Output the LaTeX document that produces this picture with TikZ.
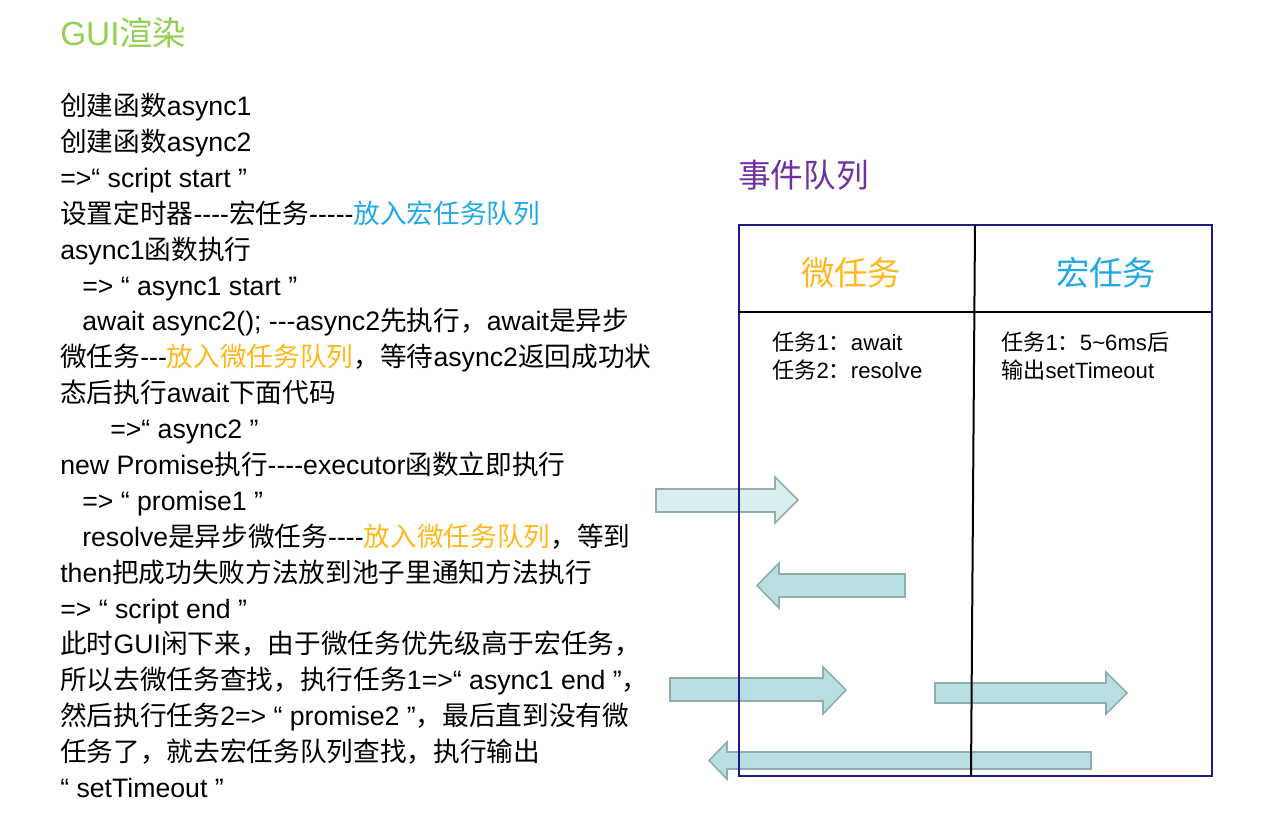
\documentclass[tikz,border=0pt]{standalone}
\usepackage{fontspec}
\setmainfont[Ligatures=TeXOff]{Liberation Sans}
\newfontfamily\cjk{Noto Sans CJK SC}
\newcommand\zh[1]{{\cjk #1}}
\usepackage{tikz}
\usetikzlibrary{calc,positioning}

\definecolor{guigreen}{HTML}{92D050}
\definecolor{queuepurple}{HTML}{7030A0}
\definecolor{microorange}{HTML}{FFB81C}
\definecolor{macroblue}{HTML}{1FAAE6}
\definecolor{boxnavy}{HTML}{1F1A8A}
\definecolor{arrowfill}{HTML}{B7DFE1}
\definecolor{arrowpale}{HTML}{DAEDEF}
\definecolor{arrowedge}{HTML}{90AEB0}

\tikzset{
  txtline/.style={anchor=base west,inner sep=0pt,font=\fontsize{20}{24}\selectfont},
  cell/.style={anchor=base west,inner sep=0pt,font=\fontsize{16.6}{20}\selectfont},
  fatarrow/.style={draw=arrowedge,line width=1.2pt,fill=arrowfill},
}

\begin{document}
\begin{tikzpicture}[x=0.75pt,y=-0.75pt]
        \useasboundingbox (0,0) rectangle (1280,828);

        % title
        \node[anchor=base west,inner sep=0pt,text=guigreen,font=\fontsize{25}{28}\selectfont] (title) at (60,45) {GUI\zh{渲染}};

        % steps on the left
        \node[txtline] (l1) at (60,115) {\zh{创建函数}async1};
        \node[txtline] (l2) at (60,151) {\zh{创建函数}async2};
        \node[txtline] (l3) at (60,187) {=>“ script start ”};
        \node[txtline] (l4) at (60,223) {\zh{设置定时器}----\zh{宏任务}-----\textcolor{macroblue}{\zh{放入宏任务队列}}};
        \node[txtline] (l5) at (60,259) {async1\zh{函数执行}};
        \node[txtline] (l6) at (82,295) {=> “ async1 start ”};
        \node[txtline] (l7) at (82,330) {await async2(); ---async2\zh{先执行，}await\zh{是异步}};
        \node[txtline] (l8) at (60,366) {\zh{微任务}---\textcolor{microorange}{\zh{放入微任务队列}}\zh{，等待}async2\zh{返回成功状}};
        \node[txtline] (l9) at (60,402) {\zh{态后执行}await\zh{下面代码}};
        \node[txtline] (l10) at (110,438) {=>“ async2 ”};
        \node[txtline] (l11) at (60,474) {new Promise\zh{执行}----executor\zh{函数立即执行}};
        \node[txtline] (l12) at (82,510) {=> “ promise1 ”};
        \node[txtline] (l13) at (82,546) {resolve\zh{是异步微任务}----\textcolor{microorange}{\zh{放入微任务队列}}\zh{，等到}};
        \node[txtline] (l14) at (60,582) {then\zh{把成功失败方法放到池子里通知方法执行}};
        \node[txtline] (l15) at (60,618) {=> “ script end ”};
        \node[txtline] (l16) at (60,653) {\zh{此时}GUI\zh{闲下来，由于微任务优先级高于宏任务，}};
        \node[txtline] (l17) at (60,689) {\zh{所以去微任务查找，执行任务}1=>“ async1 end ”\zh{，}};
        \node[txtline] (l18) at (60,725) {\zh{然后执行任务}2=> “ promise2 ”\zh{，最后直到没有微}};
        \node[txtline] (l19) at (60,761) {\zh{任务了，就去宏任务队列查找，执行输出}};
        \node[txtline] (l20) at (60,797) {“ setTimeout ”};

        % event queue heading
        \node[anchor=base west,inner sep=0pt,text=queuepurple,font=\fontsize{24.5}{28}\selectfont] (queue) at (738,187) {\zh{事件队列}};

        % arrows (drawn under the box lines)
        \draw[fatarrow,fill=arrowpale] (656,489) -- (775,489) -- (775,477) -- (798,500) -- (775,523) -- (775,512) -- (656,512) -- cycle;
        \draw[fatarrow] (905,574) -- (779,574) -- (779,563) -- (757,585.5) -- (779,608) -- (779,597) -- (905,597) -- cycle;
        \draw[fatarrow] (670,678) -- (823,678) -- (823,667) -- (846,690) -- (823,714) -- (823,701) -- (670,701) -- cycle;
        \draw[fatarrow] (935,683) -- (1106,683) -- (1106,672) -- (1127,693) -- (1106,714) -- (1106,703) -- (935,703) -- cycle;
        \draw[fatarrow] (1091,752) -- (727,752) -- (727,742) -- (709,760.5) -- (727,779) -- (727,769) -- (1091,769) -- cycle;

        % queue table
        \draw[boxnavy,line width=1.5pt] (739,225) rectangle (1212,776);
        \draw[black,line width=1.5pt] (975,225) -- (971,776);
        \draw[black,line width=1.5pt] (738,312) -- (1212,312);

        \node[text=microorange,font=\fontsize{25}{28}\selectfont] (micro) at (851,273) {\zh{微任务}};
        \node[text=macroblue,font=\fontsize{25}{28}\selectfont] (macro) at (1106,273) {\zh{宏任务}};

        \node[cell] (m1) at (772,350) {\zh{任务}1\zh{：}await};
        \node[cell] (m2) at (772,378) {\zh{任务}2\zh{：}resolve};
        \node[cell] (t1) at (1001,350) {\zh{任务}1\zh{：}5\textasciitilde 6ms\zh{后}};
        \node[cell] (t2) at (1001,378) {\zh{输出}setTimeout};
      \end{tikzpicture}
\end{document}
